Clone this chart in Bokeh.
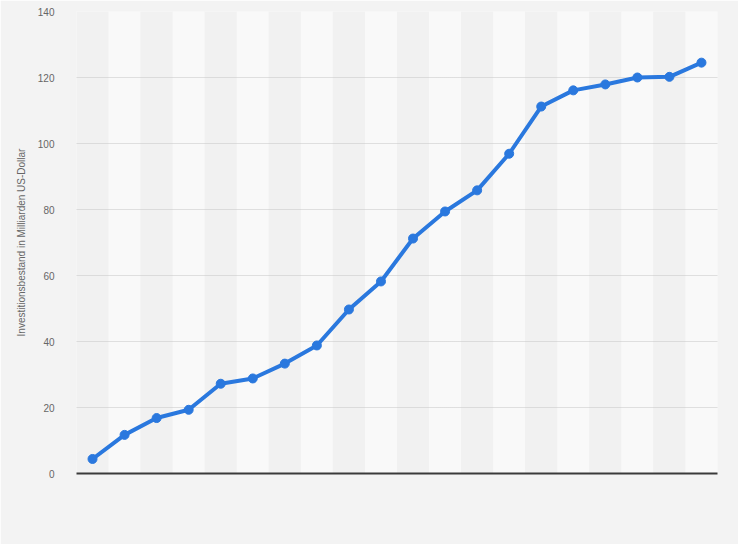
from bokeh.plotting import figure
from bokeh.models import Range1d, FixedTicker, ColumnDataSource
from bokeh.embed import file_html
from bokeh.resources import INLINE

# Data
positions = list(range(1, 21))
values = [4.4, 11.7, 16.8, 19.3, 27.2, 28.8, 33.3, 38.8, 49.7, 58.2,
          71.2, 79.4, 85.8, 96.9, 111.2, 116.1, 117.9, 120.0, 120.2, 124.5]
y_ticks = [0, 20, 40, 60, 80, 100, 120, 140]
y_label = "Investitionsbestand in Milliarden US-Dollar"

BG = "#f3f3f3"
BAND_DARK = "#f1f1f1"
BAND_LIGHT = "#f9f9f9"
BLUE = "#2a78de"

p = figure(width=738, height=544, output_backend="svg", toolbar_location=None,
           x_range=Range1d(0.5, len(positions) + 0.5), y_range=Range1d(0, 140),
           min_border_left=76, min_border_right=21, min_border_top=11,
           min_border_bottom=71)
p.background_fill_color = BG
p.border_fill_color = BG
p.outline_line_color = None

# alternating column bands (drawn beneath the grid)
band_left = [x - 0.5 for x in positions]
band_right = [x + 0.5 for x in positions]
band_color = [BAND_DARK if i % 2 == 0 else BAND_LIGHT for i in range(len(positions))]
p.quad(left=band_left, right=band_right, bottom=0, top=140, fill_color=band_color,
       line_color=None, level="image")

# grid
p.xgrid.grid_line_color = None
p.ygrid.grid_line_color = "#c4c4c4"
p.ygrid.grid_line_dash = "1 1"
p.ygrid.grid_line_width = 1
p.ygrid.level = "underlay"

src = ColumnDataSource(dict(x=positions, y=values))
p.line("x", "y", source=src, line_color=BLUE, line_width=4, line_join="round")
p.scatter("x", "y", source=src, size=9, fill_color=BLUE, line_color=BLUE)

# y axis
p.yaxis.ticker = FixedTicker(ticks=y_ticks)
p.yaxis.axis_line_color = None
p.yaxis.major_tick_line_color = None
p.yaxis.minor_tick_line_color = None
p.yaxis.major_label_standoff = 16
p.yaxis.major_label_text_font = "Liberation Sans"
p.yaxis.major_label_text_font_size = "10px"
p.yaxis.major_label_text_color = "#666666"
p.yaxis.axis_label = y_label
p.yaxis.axis_label_standoff = 8
p.yaxis.axis_label_text_font = "Liberation Sans"
p.yaxis.axis_label_text_font_size = "10px"
p.yaxis.axis_label_text_font_style = "normal"
p.yaxis.axis_label_text_color = "#666666"

# x axis: baseline only
p.xaxis.axis_line_color = "#3a3a3a"
p.xaxis.axis_line_width = 2
p.xaxis.major_tick_line_color = None
p.xaxis.minor_tick_line_color = None
p.xaxis.major_label_text_font_size = "0px"
p.xaxis.major_label_text_color = None

open("out.html", "w").write(file_html(p, INLINE))
